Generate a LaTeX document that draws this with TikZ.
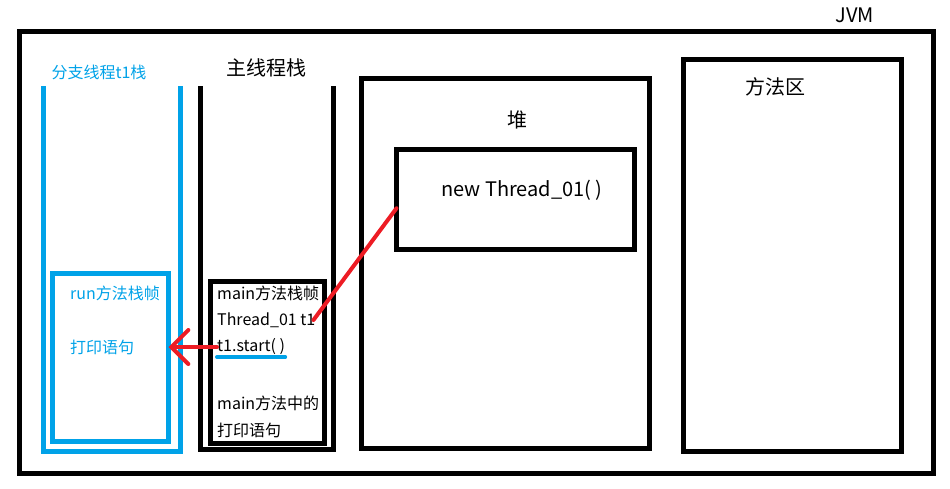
\documentclass[tikz,border=0pt]{standalone}
\usepackage{fontspec}
\setmainfont{Noto Sans CJK SC}
\usetikzlibrary{arrows.meta}
\definecolor{pblue}{HTML}{00A2E8}
\definecolor{pred}{HTML}{ED1C24}
\begin{document}
\begin{tikzpicture}[x=1pt,y=-1pt,
  box/.style={draw=black,line width=5pt,inner sep=0pt,outer sep=0pt,anchor=north west},
  bbox/.style={box,draw=pblue},
  stackline/.style={line width=5pt,line join=miter},
  lbl/.style={inner sep=0pt,font=\fontsize{16}{19}\selectfont},
  big/.style={lbl,font=\fontsize{20}{24}\selectfont},
  lblw/.style={lbl,anchor=west},
  redline/.style={draw=pred,line width=4pt,line cap=round}]
\useasboundingbox (0,0) rectangle (950,488);
% boxes
\node[box,minimum width=913.5pt,minimum height=442pt] (jvm) at (19.5,31.5) {};
\node[box,minimum width=218pt,minimum height=391.5pt] (method) at (683.5,59.5) {};
\node[box,minimum width=288.5pt,minimum height=370.5pt] (heap) at (361,78) {};
\node[box,minimum width=238pt,minimum height=99.5pt] (obj) at (396.5,149.5) {};
\node[box,minimum width=114pt,minimum height=162pt] (mainf) at (210.7,281.5) {};
\node[bbox,minimum width=116pt,minimum height=167.5pt] (runf) at (52.5,273.5) {};
% stacks
\draw[stackline,pblue] (43.5,86) -- (43.5,451) -- (180.5,451) -- (180.5,86);
\draw[stackline] (200,86) -- (200,449) -- (333.5,449) -- (333.5,86);
% titles
\node[big] (jvmt) at (855,15) {JVM};
\node[big] (methodt) at (775,87) {方法区};
\node[big] (heapt) at (517,120) {堆};
\node[big] (objt) at (522,190) {new Thread\_01( )};
\node[big] (maint) at (266,68) {主线程栈};
\node[lbl,text=pblue] (t1t) at (99,72) {分支线程t1栈};
% run frame texts
\node[lblw,text=pblue] (runt) at (70,293) {run方法栈帧};
\node[lblw,text=pblue] (runp) at (70,347) {打印语句};
% main frame texts
\node[lblw] (m1) at (217,293) {main方法栈帧};
\node[lblw] (m2) at (217,320) {Thread\_01 t1};
\node[lblw] (m3) at (217,347) {t1.start( )};
\node[lblw] (m4) at (217,403) {main方法中的};
\node[lblw] (m5) at (217,430) {打印语句};
% underline
\draw[pblue,line width=4pt,line cap=round] ([yshift=-10pt]m3.west) -- ([yshift=-10pt]m3.east);
% red connectors
\draw[redline] ([xshift=-2pt]m2.east) -- ([yshift=-9pt]obj.west);
\draw[redline,-{Straight Barb[length=17pt,width=34pt,line cap=round]}] (m3.west) -- (runf.east |- m3.west);
\end{tikzpicture}
\end{document}
